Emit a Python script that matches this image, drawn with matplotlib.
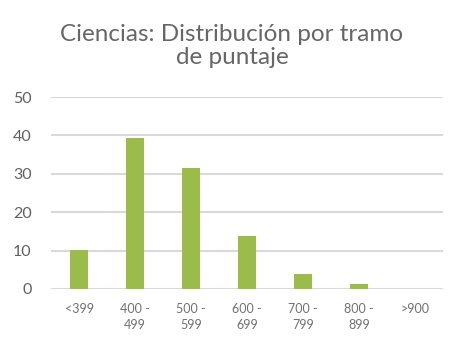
import matplotlib
matplotlib.use("Agg")
import matplotlib.pyplot as plt

categories = ["<399", "400 -\n499", "500 -\n599", "600 -\n699", "700 -\n799", "800 -\n899", ">900"]
values = [10.2, 39.3, 31.5, 13.8, 3.9, 1.3, 0.0]
yticks = [0, 10, 20, 30, 40, 50]

plt.rcParams['font.family'] = ['Lato', 'DejaVu Sans']

fig = plt.figure(figsize=(4.64, 3.44), dpi=100)
ax = fig.add_axes([0.11, 0.160, 0.845, 0.558])

x = list(range(len(categories)))
ax.bar(x, values, width=0.32, color="#9bbb4b", zorder=3)

ax.set_xlim(-0.5, len(categories) - 0.5)
ax.set_ylim(0, 50)
ax.set_yticks(yticks)
ax.set_xticks(x)
ax.set_xticklabels(categories, fontsize=9, color="#707070", linespacing=1.45)
ax.set_yticklabels([str(v) for v in yticks], fontsize=11.5, color="#606060")
ax.grid(axis="y", color="#d9d9d9", linewidth=1.5, zorder=0)
for s in ax.spines.values():
    s.set_visible(False)
ax.tick_params(axis="both", length=0)
ax.tick_params(axis="y", pad=14)
ax.tick_params(axis="x", pad=10)

fig.text(0.5, 0.93, "Ciencias: Distribución por tramo\nde puntaje", ha="center", va="top",
         fontsize=17.5, color="#666666", linespacing=1.1)

fig.savefig("out.png", dpi=100)
